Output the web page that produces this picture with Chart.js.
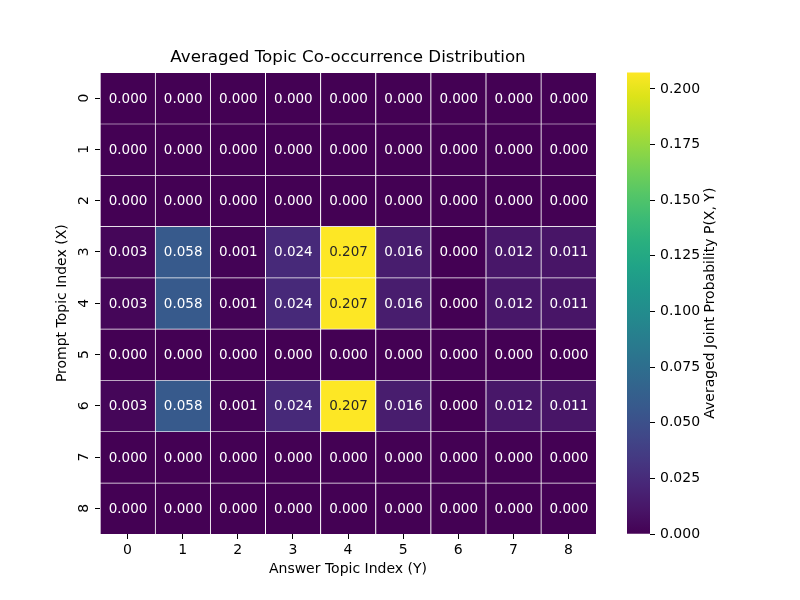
<!DOCTYPE html>
<html>
<head>
<meta charset="utf-8">
<script src="https://cdn.jsdelivr.net/npm/chart.js@4.4.1/dist/chart.umd.min.js"></script>
<style>
  html, body { margin: 0; padding: 0; background: #ffffff; }
  #wrap { position: relative; width: 800px; height: 600px; }
  #wrap canvas { position: absolute; left: 0; top: 0; }
  #cbar { pointer-events: none; }
</style>
</head>
<body>
<div id="wrap">
  <canvas id="main" width="800" height="600"></canvas>
  <canvas id="cbar" width="800" height="600"></canvas>
</div>
<script>
// ---------------- data ----------------
const chartTitle = 'Averaged Topic Co-occurrence Distribution';
const xAxisTitle = 'Answer Topic Index (Y)';
const yAxisTitle = 'Prompt Topic Index (X)';
const colorbarTitle = 'Averaged Joint Probability P(X, Y)';

const answerTopics = ['0', '1', '2', '3', '4', '5', '6', '7', '8'];
const promptTopics = ['0', '1', '2', '3', '4', '5', '6', '7', '8'];

const row0 = [0.000, 0.000, 0.000, 0.000, 0.000, 0.000, 0.000, 0.000, 0.000];
const row1 = [0.000, 0.000, 0.000, 0.000, 0.000, 0.000, 0.000, 0.000, 0.000];
const row2 = [0.000, 0.000, 0.000, 0.000, 0.000, 0.000, 0.000, 0.000, 0.000];
const row3 = [0.003, 0.058, 0.001, 0.024, 0.2074, 0.016, 0.000, 0.012, 0.011];
const row4 = [0.003, 0.058, 0.001, 0.024, 0.2074, 0.016, 0.000, 0.012, 0.011];
const row5 = [0.000, 0.000, 0.000, 0.000, 0.000, 0.000, 0.000, 0.000, 0.000];
const row6 = [0.003, 0.058, 0.001, 0.024, 0.2074, 0.016, 0.000, 0.012, 0.011];
const row7 = [0.000, 0.000, 0.000, 0.000, 0.000, 0.000, 0.000, 0.000, 0.000];
const row8 = [0.000, 0.000, 0.000, 0.000, 0.000, 0.000, 0.000, 0.000, 0.000];
const matrix = [row0, row1, row2, row3, row4, row5, row6, row7, row8];

const colorbarTicks = [0.000, 0.025, 0.050, 0.075, 0.100, 0.125, 0.150, 0.175, 0.200];

// ---------------- colour map (viridis) ----------------
const VIRIDIS = ['#440154', '#481567', '#482677', '#453781', '#404788', '#39568C', '#33638D',
  '#2D708E', '#287D8E', '#238A8D', '#1F968B', '#20A387', '#29AF7F', '#3CBB75', '#55C667',
  '#73D055', '#95D840', '#B8DE29', '#DCE319', '#FDE725'];
function hexToRgb(h) {
  const n = parseInt(h.slice(1), 16);
  return [(n >> 16) & 255, (n >> 8) & 255, n & 255];
}
const VIR_RGB = VIRIDIS.map(hexToRgb);
function viridisRgb(t) {
  t = Math.max(0, Math.min(1, t));
  const p = t * (VIR_RGB.length - 1);
  const i = Math.min(VIR_RGB.length - 2, Math.floor(p));
  const f = p - i;
  const a = VIR_RGB[i], b = VIR_RGB[i + 1];
  return [0, 1, 2].map(k => Math.round(a[k] + (b[k] - a[k]) * f));
}
function rgbStr(c) { return 'rgb(' + c[0] + ',' + c[1] + ',' + c[2] + ')'; }
function luminance(c) {
  const lin = c.map(v => { v /= 255; return v <= 0.03928 ? v / 12.92 : Math.pow((v + 0.055) / 1.055, 2.4); });
  return 0.2126 * lin[0] + 0.7152 * lin[1] + 0.0722 * lin[2];
}

const allValues = matrix.flat();
const vmin = Math.min(...allValues);
const vmax = Math.max(...allValues);
const norm = v => (v - vmin) / (vmax - vmin);

const FONT = 'DejaVu Sans';
Chart.defaults.font.family = FONT;
Chart.defaults.font.size = 14;
Chart.defaults.color = '#000000';

// ---------------- main heatmap ----------------
const datasets = promptTopics.map((p, r) => ({
  label: 'Prompt ' + p,
  data: answerTopics.map(() => 1),
  backgroundColor: matrix[r].map(v => rgbStr(viridisRgb(norm(v)))),
  borderColor: '#ffffff',
  borderWidth: { top: 1, left: 1, right: 0, bottom: 0 },
  borderSkipped: false,
  barPercentage: 1,
  categoryPercentage: 1,
  stack: 'grid'
}));

const cellLabels = {
  id: 'cellLabels',
  afterDatasetsDraw(chart) {
    const ctx = chart.ctx;
    ctx.save();
    ctx.font = '13.5px "' + FONT + '"';
    ctx.textAlign = 'center';
    ctx.textBaseline = 'middle';
    matrix.forEach((row, r) => {
      const meta = chart.getDatasetMeta(r);
      meta.data.forEach((el, c) => {
        const v = row[c];
        const col = viridisRgb(norm(v));
        const pt = el.getCenterPoint();
        ctx.fillStyle = luminance(col) > 0.408 ? '#262626' : '#ffffff';
        ctx.fillText(v.toFixed(3), pt.x + 0.5, pt.y + 1);
      });
    });
    ctx.restore();
  }
};

new Chart(document.getElementById('main'), {
  type: 'bar',
  data: { labels: answerTopics, datasets: datasets },
  options: {
    responsive: false,
    animation: false,
    devicePixelRatio: 1,
    layout: { padding: { left: 0, right: 204, top: 0, bottom: 0 } },
    plugins: {
      legend: { display: false },
      tooltip: { enabled: false },
      title: { display: false }
    },
    scales: {
      x: {
        type: 'category',
        stacked: true,
        offset: true,
        afterFit: s => { s.height = 66; },
        grid: { display: true, drawOnChartArea: false, offset: false, tickLength: 5, color: '#000000', lineWidth: 1 },
        border: { display: false },
        ticks: { color: '#000000', padding: 3, font: { size: 14 }, maxRotation: 0 },
        title: { display: true, text: xAxisTitle, color: '#000000', font: { size: 14 }, padding: { top: 0, bottom: 22 } }
      },
      xTitle: {
        type: 'category',
        position: 'top',
        offset: true,
        afterFit: s => { s.height = 72.4; },
        grid: { display: false },
        border: { display: false },
        ticks: { display: false },
        title: {
          display: true,
          text: chartTitle,
          color: '#000000',
          font: { family: FONT, size: 16.7, weight: 'normal' },
          padding: { top: 48, bottom: 0 }
        }
      },
      y: {
        type: 'linear',
        stacked: true,
        reverse: true,
        min: 0,
        max: promptTopics.length,
        afterFit: s => { s.width = 100; },
        afterBuildTicks: s => { s.ticks = promptTopics.map((_, i) => ({ value: i + 0.5 })); },
        grid: { display: true, drawOnChartArea: false, tickLength: 5, color: '#000000', lineWidth: 1 },
        border: { display: false },
        ticks: {
          color: '#000000',
          padding: 6,
          font: { size: 14 },
          minRotation: 90,
          maxRotation: 90,
          crossAlign: 'center',
          autoSkip: false,
          callback: v => promptTopics[Math.round(v - 0.5)]
        },
        title: { display: true, text: yAxisTitle, color: '#000000', font: { size: 14 }, padding: { top: 54.3, bottom: 0 } }
      }
    }
  },
  plugins: [cellLabels]
});

// ---------------- colour bar ----------------
const colorbarLabel = {
  id: 'colorbarLabel',
  afterDraw(chart) {
    const a = chart.chartArea;
    const ctx = chart.ctx;
    ctx.save();
    ctx.translate(a.right + 60, (a.top + a.bottom) / 2);
    ctx.rotate(-Math.PI / 2);
    ctx.font = '14px "' + FONT + '"';
    ctx.fillStyle = '#000000';
    ctx.textAlign = 'center';
    ctx.textBaseline = 'middle';
    ctx.fillText(colorbarTitle, 0, 0);
    ctx.restore();
  }
};

new Chart(document.getElementById('cbar'), {
  type: 'bar',
  data: {
    labels: [''],
    datasets: [{
      data: [[vmin, vmax]],
      borderWidth: 0,
      barPercentage: 1,
      categoryPercentage: 1,
      backgroundColor: c => {
        const chart = c.chart;
        if (!chart.chartArea) return VIRIDIS[0];
        const y = chart.scales.y;
        const g = chart.ctx.createLinearGradient(0, y.getPixelForValue(vmin), 0, y.getPixelForValue(vmax));
        VIRIDIS.forEach((col, i) => g.addColorStop(i / (VIRIDIS.length - 1), col));
        return g;
      }
    }]
  },
  options: {
    responsive: false,
    animation: false,
    devicePixelRatio: 1,
    layout: { padding: { left: 627, right: 50, top: 72.4, bottom: 66 } },
    plugins: { legend: { display: false }, tooltip: { enabled: false }, title: { display: false } },
    scales: {
      x: { display: false },
      y: {
        position: 'right',
        min: vmin,
        max: vmax,
        afterFit: s => { s.width = 100; },
        afterBuildTicks: s => { s.ticks = colorbarTicks.map(v => ({ value: v })); },
        grid: { display: true, drawOnChartArea: false, tickLength: 5, color: '#000000', lineWidth: 1 },
        border: { display: false },
        ticks: { color: '#000000', padding: 5, font: { size: 14 }, callback: v => v.toFixed(3) }
      }
    }
  },
  plugins: [colorbarLabel]
});
</script>
</body>
</html>
